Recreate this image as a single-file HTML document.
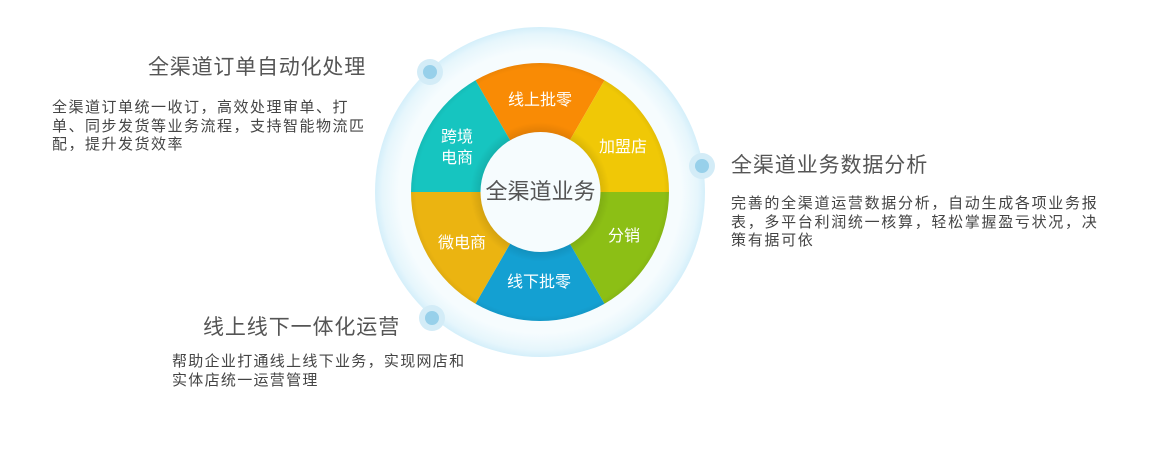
<!DOCTYPE html>
<html><head><meta charset="utf-8">
<style>
body{margin:0;width:1151px;height:471px;background:#fff;overflow:hidden;position:relative;font-family:"Liberation Sans","Noto Sans CJK SC",sans-serif;}
.t{position:absolute;color:#555;font-size:21px;white-space:nowrap;line-height:24px;}
.b{position:absolute;color:#444;font-size:15px;white-space:nowrap;line-height:18.5px;}
svg{position:absolute;left:0;top:0}
</style></head><body>
<svg width="1151" height="471" viewBox="0 0 1151 471" font-family="Liberation Sans, Noto Sans CJK SC, sans-serif">
<defs>
<radialGradient id="og" cx="540" cy="192" r="166" gradientUnits="userSpaceOnUse">
<stop offset="0.85" stop-color="#f6fcfe"/>
<stop offset="0.95" stop-color="#e6f6fc"/>
<stop offset="1" stop-color="#d2eefa"/>
</radialGradient>
<radialGradient id="sh" cx="540" cy="192" r="129" gradientUnits="userSpaceOnUse">
<stop offset="0.46" stop-color="#000" stop-opacity="0.1"/>
<stop offset="0.54" stop-color="#000" stop-opacity="0"/>
<stop offset="0.96" stop-color="#000" stop-opacity="0"/>
<stop offset="1" stop-color="#000" stop-opacity="0.05"/>
</radialGradient>
</defs>
<circle cx="540" cy="192" r="165" fill="url(#og)"/>
<path d="M540,192 L475.5,80.3 A129,129 0 0 1 604.5,80.3 Z" fill="#f98b05"/>
<path d="M540,192 L604.5,80.3 A129,129 0 0 1 669,192 Z" fill="#f0c806"/>
<path d="M540,192 L669,192 A129,129 0 0 1 604.5,303.7 Z" fill="#8cbf15"/>
<path d="M540,192 L604.5,303.7 A129,129 0 0 1 475.5,303.7 Z" fill="#14a0d2"/>
<path d="M540,192 L475.5,303.7 A129,129 0 0 1 411,192 Z" fill="#ebb411"/>
<path d="M540,192 L411,192 A129,129 0 0 1 475.5,80.3 Z" fill="#16c5c0"/>
<circle cx="540" cy="192" r="129" fill="url(#sh)"/>
<circle cx="540.5" cy="192" r="60" fill="#f6fcfe"/>
<g fill="#fff" font-size="16" text-anchor="middle">
<text x="540" y="105">线上批零</text>
<text x="623" y="152">加盟店</text>
<text x="624" y="241">分销</text>
<text x="539" y="287">线下批零</text>
<text x="462" y="248">微电商</text>
<text x="457" y="142">跨境</text>
<text x="457" y="163">电商</text>
</g>
<text x="540.5" y="199" font-size="22" fill="#555" text-anchor="middle">全渠道业务</text>
<circle cx="430" cy="72" r="13" fill="#d3ecf7"/><circle cx="430" cy="72" r="7" fill="#97d0ea"/>
<circle cx="702" cy="166" r="13" fill="#d3ecf7"/><circle cx="702" cy="166" r="7" fill="#97d0ea"/>
<circle cx="432" cy="318" r="13" fill="#d3ecf7"/><circle cx="432" cy="318" r="7" fill="#97d0ea"/>
</svg>
<div class="t" style="left:148px;top:56px;letter-spacing:0.8px">全渠道订单自动化处理</div>
<div class="b" style="left:52px;top:99px;letter-spacing:1.5px">全渠道订单统一收订，高效处理审单、打<br>单、同步发货等业务流程，支持智能物流匹<br>配，提升发货效率</div>
<div class="t" style="left:731px;top:154px;letter-spacing:0.9px">全渠道业务数据分析</div>
<div class="b" style="left:731px;top:195px;letter-spacing:1.7px">完善的全渠道运营数据分析，自动生成各项业务报<br>表，多平台利润统一核算，轻松掌握盈亏状况，决<br>策有据可依</div>
<div class="t" style="left:203px;top:316px;letter-spacing:0.9px">线上线下一体化运营</div>
<div class="b" style="left:172px;top:353px;letter-spacing:1.3px">帮助企业打通线上线下业务，实现网店和<br>实体店统一运营管理</div>
</body></html>
